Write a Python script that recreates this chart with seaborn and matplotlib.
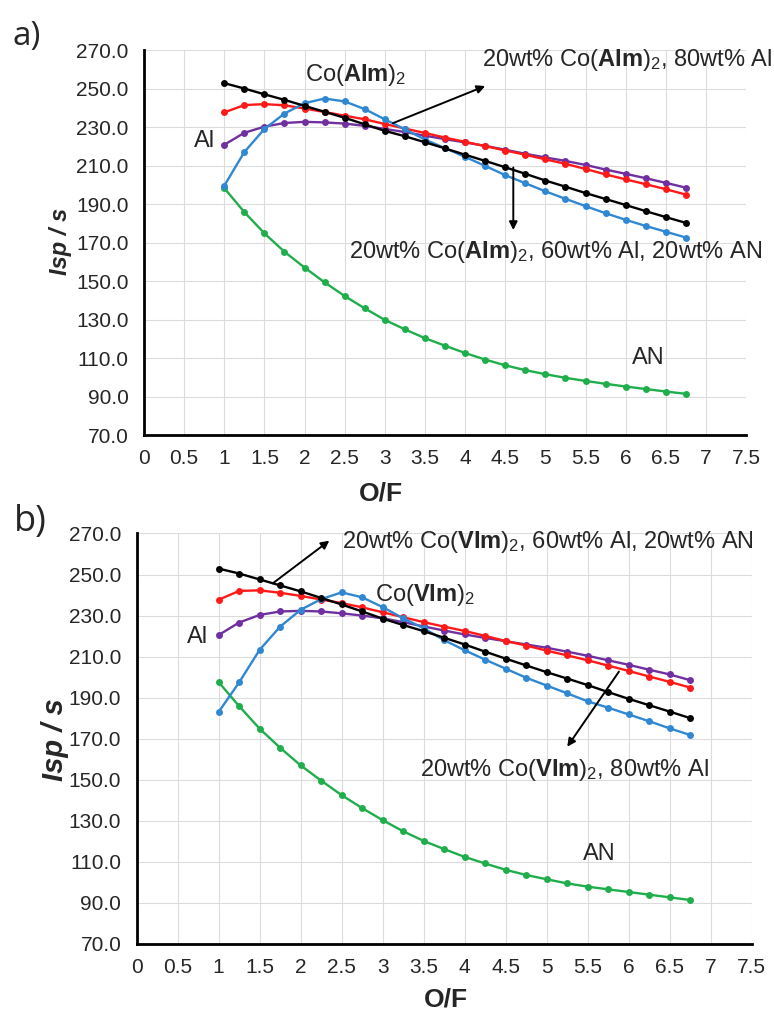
import numpy as np
import pandas as pd
import matplotlib
matplotlib.use("Agg")
import matplotlib.pyplot as plt
import seaborn as sns

# ------------------------------------------------------------
# Specific impulse vs O/F ratio for the two Co(XIm)2 formulations
# ------------------------------------------------------------

of_ratio = [1.0, 1.25, 1.5, 1.75, 2.0, 2.25, 2.5, 2.75, 3.0, 3.25, 3.5, 3.75,
            4.0, 4.25, 4.5, 4.75, 5.0, 5.25, 5.5, 5.75, 6.0, 6.25, 6.5, 6.75]

# panel a) Co(AIm)2
black_a = [252.8, 250.0, 247.0, 244.1, 241.0, 237.9, 234.8, 231.4, 228.0, 225.2, 222.1, 218.9,
           215.6, 212.4, 209.1, 205.7, 202.2, 199.0, 195.7, 192.6, 189.5, 186.3, 183.2, 180.2]
red_a = [237.6, 241.4, 241.9, 241.3, 239.6, 237.8, 235.9, 234.0, 231.6, 229.2, 226.9, 224.5,
         222.3, 220.1, 217.8, 215.6, 213.2, 210.9, 208.2, 205.4, 202.8, 200.3, 197.7, 194.9]
purple_a = [220.8, 227.0, 230.2, 232.1, 232.7, 232.4, 231.8, 230.6, 229.0, 227.4, 225.5, 223.7,
            222.0, 220.2, 218.2, 216.1, 214.2, 212.4, 210.3, 207.9, 205.7, 203.4, 201.0, 198.5]
blue_a = [199.5, 217.0, 229.0, 237.0, 242.4, 244.8, 243.3, 239.3, 234.0, 228.8, 223.5, 219.0,
          214.5, 209.8, 205.0, 200.8, 196.6, 192.7, 188.9, 185.2, 181.8, 178.6, 175.6, 172.6]
green_a = [198.3, 185.8, 174.8, 165.2, 157.0, 149.3, 142.2, 135.8, 129.8, 124.9, 120.3, 116.4,
           112.6, 109.2, 106.2, 103.7, 101.6, 99.7, 98.1, 96.6, 95.2, 93.9, 92.6, 91.4]

# panel b) Co(VIm)2
black_b = [252.9, 250.5, 247.6, 244.7, 241.8, 238.6, 235.4, 232.0, 228.5, 225.4, 222.4, 219.2,
           215.9, 212.4, 209.0, 205.7, 202.4, 199.3, 196.1, 192.7, 189.4, 186.3, 183.2, 180.0]
red_b = [237.7, 242.0, 242.3, 241.1, 239.6, 237.8, 236.1, 234.0, 231.6, 229.2, 226.8, 224.6,
         222.5, 220.1, 217.6, 215.4, 212.9, 210.6, 208.2, 205.6, 203.0, 200.3, 197.7, 194.9]
purple_b = [220.5, 226.6, 230.3, 232.0, 232.3, 232.0, 231.1, 230.0, 228.7, 226.8, 224.7, 222.7,
            220.8, 219.1, 217.5, 215.9, 214.3, 212.4, 210.4, 208.2, 206.0, 203.6, 201.3, 198.5]
blue_b = [183.0, 197.4, 213.3, 224.6, 232.8, 238.0, 241.3, 238.9, 234.1, 228.7, 223.8, 218.0,
          213.1, 208.5, 204.1, 199.7, 195.9, 192.1, 188.2, 185.1, 181.8, 178.5, 175.0, 171.8]
green_b = [197.6, 185.9, 174.9, 165.6, 157.0, 149.6, 142.5, 136.2, 130.3, 124.9, 120.2, 116.2,
           112.4, 109.2, 106.1, 103.6, 101.5, 99.5, 97.9, 96.6, 95.3, 94.0, 92.7, 91.4]

x_ticks = [0, 0.5, 1, 1.5, 2, 2.5, 3, 3.5, 4, 4.5, 5, 5.5, 6, 6.5, 7, 7.5]
x_tick_labels = ["0", "0.5", "1", "1.5", "2", "2.5", "3", "3.5", "4", "4.5", "5",
                 "5.5", "6", "6.5", "7", "7.5"]
y_ticks = [70, 90, 110, 130, 150, 170, 190, 210, 230, 250, 270]
y_tick_labels = ["70.0", "90.0", "110.0", "130.0", "150.0", "170.0", "190.0",
                 "210.0", "230.0", "250.0", "270.0"]

colors = {"green": "#1fae4b", "purple": "#7030a0", "red": "#ff1a1a",
          "black": "#000000", "blue": "#3088d2"}

# -----------------------------
# Styling
# -----------------------------
sns.set_style("whitegrid")
plt.rcParams["font.family"] = ["Liberation Sans", "DejaVu Sans"]
plt.rcParams["mathtext.fontset"] = "custom"
plt.rcParams["mathtext.rm"] = "Liberation Sans"
plt.rcParams["mathtext.bf"] = "Liberation Sans:bold"
plt.rcParams["mathtext.it"] = "Liberation Sans:italic"

fig = plt.figure(figsize=(7.74, 10.15), dpi=100)
ax_a = fig.add_axes([0.186, 0.5714, 0.778, 0.3793])
ax_b = fig.add_axes([0.1764, 0.070, 0.795, 0.4044])

TXT = 17


def draw_panel(ax, series):
    for name, vals in series:
        sns.lineplot(x=of_ratio, y=vals, ax=ax, color=colors[name], marker="o",
                     markersize=5, markeredgewidth=0, linewidth=1.7, sort=False)
    ax.set_xlim(0, 7.5)
    ax.set_ylim(70, 270)
    ax.set_xticks(x_ticks)
    ax.set_xticklabels(x_tick_labels, fontsize=15)
    ax.set_yticks(y_ticks)
    ax.set_yticklabels(y_tick_labels, fontsize=15)
    ax.tick_params(axis="y", length=0, pad=11)
    ax.tick_params(axis="x", length=0, pad=10)
    ax.grid(True, color="#dcdcdc", linewidth=0.8)
    for side in ["top", "right"]:
        ax.spines[side].set_visible(False)
    for side in ["left", "bottom"]:
        ax.spines[side].set_color("black")
        ax.spines[side].set_linewidth(2.0)


series_a = [("green", green_a), ("purple", purple_a), ("red", red_a),
            ("blue", blue_a), ("black", black_a)]
series_b = [("green", green_b), ("purple", purple_b), ("red", red_b),
            ("blue", blue_b), ("black", black_b)]

draw_panel(ax_a, series_a)
draw_panel(ax_b, series_b)

arrow = dict(arrowstyle="-|>", color="black", lw=1.4, mutation_scale=12,
             shrinkA=0, shrinkB=0)

# ---- panel a annotations
ax_a.text(2.64, 257, r"Co($\mathbf{AIm}$)$_2$", fontsize=TXT, ha="center", va="center")
ax_a.text(0.76, 222.5, "Al", fontsize=TXT, ha="center", va="center")
ax_a.text(4.21, 264.8, r"20wt% Co($\mathbf{AIm}$)$_2$, 80wt% Al", fontsize=TXT,
          ha="left", va="center")
ax_a.annotate("", xy=(4.25, 251.3), xytext=(3.1, 232), arrowprops=arrow)
ax_a.text(2.55, 165.2, r"20wt% Co($\mathbf{AIm}$)$_2$, 60wt% Al, 20wt% AN",
          fontsize=TXT, ha="left", va="center")
ax_a.annotate("", xy=(4.6, 176.5), xytext=(4.6, 209), arrowprops=arrow)
ax_a.text(6.28, 110, "AN", fontsize=TXT, ha="center", va="center")

# ---- panel b annotations
ax_b.text(3.52, 240, r"Co($\mathbf{VIm}$)$_2$", fontsize=TXT, ha="center", va="center")
ax_b.text(0.74, 219.6, "Al", fontsize=TXT, ha="center", va="center")
ax_b.text(2.5, 266, r"20wt% Co($\mathbf{VIm}$)$_2$, 60wt% Al, 20wt% AN",
          fontsize=TXT, ha="left", va="center")
ax_b.annotate("", xy=(2.35, 266.5), xytext=(1.66, 245.7), arrowprops=arrow)
ax_b.text(5.22, 154.8, r"20wt% Co($\mathbf{VIm}$)$_2$, 80wt% Al", fontsize=TXT,
          ha="center", va="center")
ax_b.annotate("", xy=(5.25, 166.1), xytext=(5.88, 202.7), arrowprops=arrow)
ax_b.text(5.64, 113.8, "AN", fontsize=TXT, ha="center", va="center")

# ---- axis labels
for ax, ylab_x, ylab_y, ysize, xlab_x, xlab_y in [
        (ax_a, -0.12, 0.502, 17, 0.394, -0.122),
        (ax_b, -0.11, 0.497, 21, 0.503, -0.107)]:
    ax.set_ylabel("Isp / s", fontsize=ysize, fontweight="bold", fontstyle="italic")
    ax.yaxis.set_label_coords(ylab_x, ylab_y)
    ax.set_xlabel("O/F", fontsize=19, fontweight="bold")
    ax.xaxis.set_label_coords(xlab_x, xlab_y)

# ---- panel letters
fig.text(27 / 774, 1 - 37 / 1015, "a)", fontsize=24, family=["Open Sans", "DejaVu Sans"],
         ha="center", va="center")
fig.text(30 / 774, 1 - 522 / 1015, "b)", fontsize=26, family=["Open Sans", "DejaVu Sans"],
         ha="center", va="center")

fig.savefig("out.png", dpi=100)
